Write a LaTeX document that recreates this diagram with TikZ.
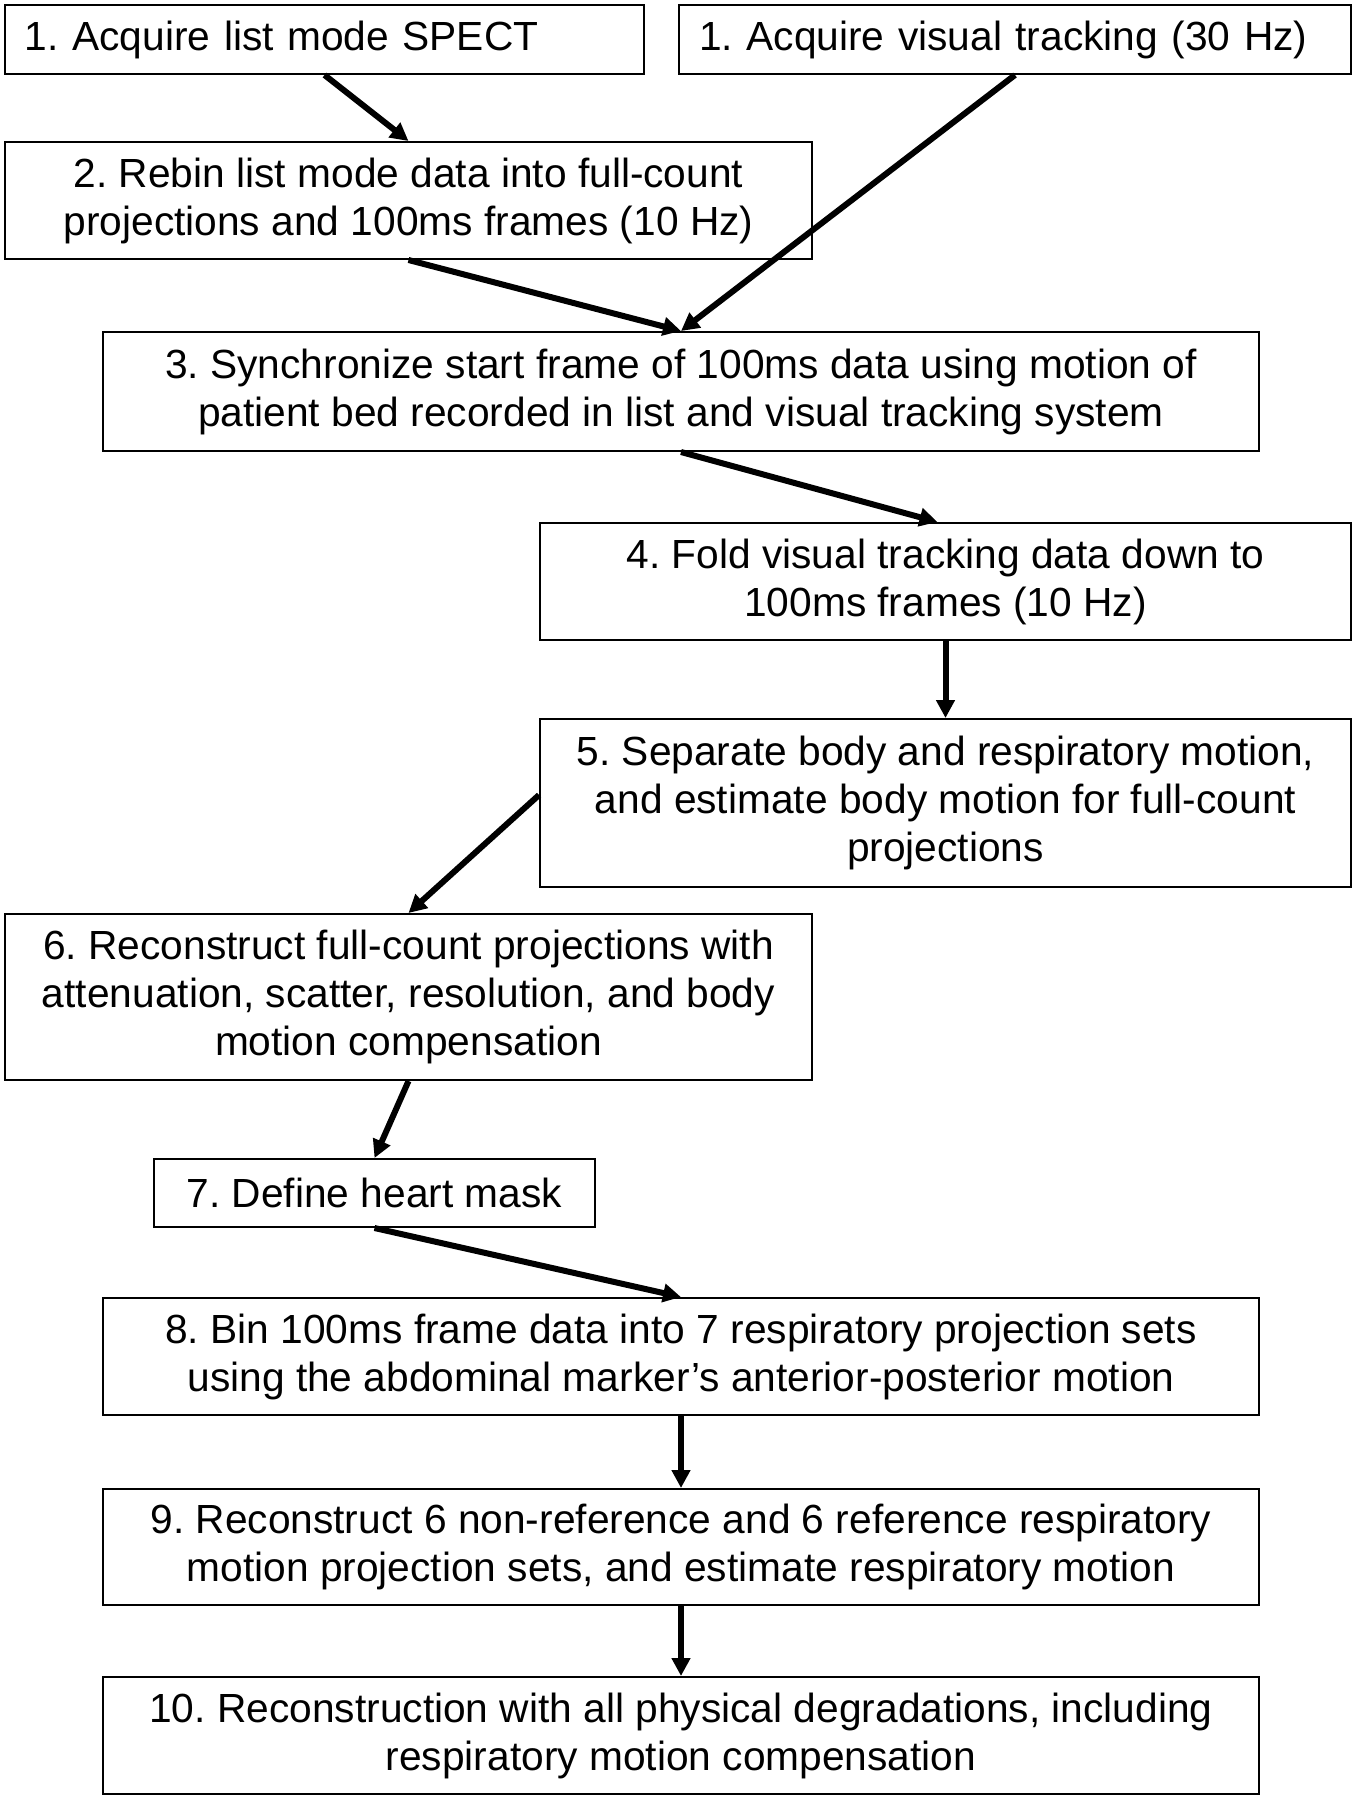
\documentclass[tikz,border=0pt]{standalone}
\usepackage{fontspec}
\setmainfont{Liberation Sans}
\usetikzlibrary{arrows.meta}
\frenchspacing

\begin{document}
\begin{tikzpicture}[x=0.5pt,y=-0.5pt,
		stepbox/.style={draw,line width=1pt,align=center,inner xsep=10pt,inner ysep=0pt,font=\fontsize{20.35}{24}\selectfont},
		leftbox/.style={stepbox,align=left},
		flow/.style={line width=3pt,-{Triangle[length=9pt,width=9pt]}}]
			\useasboundingbox (0,0) rectangle (1357,1800);
			\node[leftbox,text width=299.5pt,minimum height=34.5pt] (spect) at (324.5,39.5) {1. Acquire list mode SPECT};
			\node[leftbox,text width=316pt,minimum height=34.5pt] (track) at (1015,39.5) {1. Acquire visual tracking (30 Hz)};
			\node[stepbox,minimum width=403.5pt,minimum height=58.5pt] (rebin) at (408.5,200.5) {2. Rebin list mode data into full-count\\projections and 100ms frames (10 Hz)};
			\node[stepbox,minimum width=578pt,minimum height=59.5pt] (sync) at (681,391.5) {3. Synchronize start frame of 100ms data using motion of\\patient bed recorded in list and visual tracking system};
			\node[stepbox,minimum width=405.5pt,minimum height=58.5pt] (fold) at (945.5,581.5) {4. Fold visual tracking data down to\\100ms frames (10 Hz)};
			\node[stepbox,minimum width=405.5pt,minimum height=84pt] (separate) at (945.5,803) {5. Separate body and respiratory motion,\\and estimate body motion for full-count\\projections};
			\node[stepbox,minimum width=403.5pt,minimum height=83pt] (recon) at (408.5,997) {6. Reconstruct full-count projections with\\attenuation, scatter, resolution, and body\\motion compensation};
			\node[stepbox,minimum width=220.5pt,minimum height=34pt] (mask) at (374.5,1193) {7. Define heart mask};
			\node[stepbox,minimum width=578pt,minimum height=58.5pt] (bin) at (681,1356.5) {8. Bin 100ms frame data into 7 respiratory projection sets\\using the abdominal marker’s anterior-posterior motion};
			\node[stepbox,minimum width=578pt,minimum height=58pt] (resp) at (681,1547) {9. Reconstruct 6 non-reference and 6 reference respiratory\\motion projection sets, and estimate respiratory motion};
			\node[stepbox,minimum width=578pt,minimum height=58.5pt] (final) at (681,1735.5) {10. Reconstruction with all physical degradations, including\\respiratory motion compensation};
			\draw[flow] (spect.south) -- (rebin.north);
			\draw[flow] (track.south) -- (sync.north);
			\draw[flow] (rebin.south) -- (sync.north);
			\draw[flow] (sync.south) -- ([xshift=-4pt]fold.north);
			\draw[flow] (fold.south) -- (separate.north);
			\draw[flow] ([yshift=4pt]separate.west) -- (recon.north);
			\draw[flow] (recon.south) -- (mask.north);
			\draw[flow] (mask.south) -- (bin.north);
			\draw[flow] (bin.south) -- (resp.north);
			\draw[flow] (resp.south) -- (final.north);
		\end{tikzpicture}
\end{document}
